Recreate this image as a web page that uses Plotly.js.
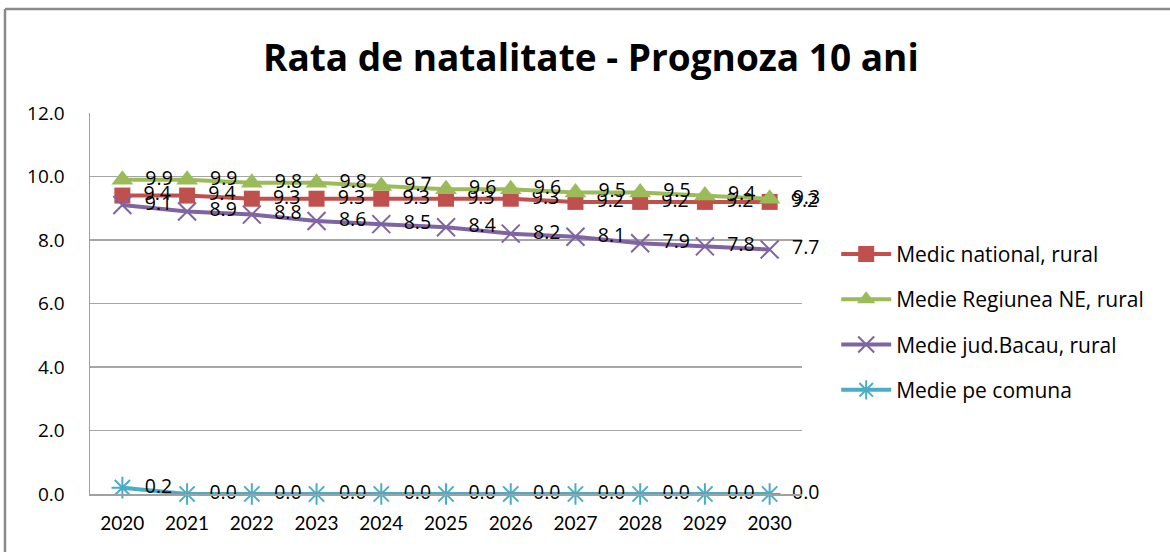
<!DOCTYPE html>
<html>
<head>
<meta charset="utf-8">
<script src="https://cdn.plot.ly/plotly-3.0.1.min.js"></script>
<style>html,body{margin:0;padding:0;background:#fff;}#chart{width:1170px;height:552px;}</style>
</head>
<body>
<div id="chart"></div>
<script>
const years = ["2020","2021","2022","2023","2024","2025","2026","2027","2028","2029","2030"];
const seriesNames = ["Medic national, rural","Medie Regiunea NE, rural","Medie jud.Bacau, rural","Medie pe comuna"];
const national = [9.4,9.4,9.3,9.3,9.3,9.3,9.3,9.2,9.2,9.2,9.2];
const regionNE = [9.9,9.9,9.8,9.8,9.7,9.6,9.6,9.5,9.5,9.4,9.3];
const bacau = [9.1,8.9,8.8,8.6,8.5,8.4,8.2,8.1,7.9,7.8,7.7];
const comuna = [0.2,0.0,0.0,0.0,0.0,0.0,0.0,0.0,0.0,0.0,0.0];
const yTicks = [0,2,4,6,8,10,12];

const FONT = "'Open Sans', Lato, sans-serif";
const TFONT = "Lato, 'Open Sans', sans-serif";
const colors = ["#C0504D","#9BBB59","#8064A2","#4BACC6"];
const symbols = ["square","triangle-up","x-thin-open","asterisk-open"];
const sizes = [16,19,18,18];
const data = [national, regionNE, bacau, comuna].map((v,i)=>({
  type:"scatter", mode:"lines+markers+text",
  x: years, y: v, name: seriesNames[i], legendgroup: "g"+i,
  text: v.map(d=>"\u00a0\u00a0"+d.toFixed(1)), textposition:"middle right",
  textfont:{family:FONT,size:19.5,color:"#000"},
  line:{color:colors[i],width:4},
  marker:{symbol:symbols[i],size:sizes[i],color:colors[i],line:{color:colors[i],width:(i>=2?2:0)}},
  cliponaxis:false
}));

const layout = {
  width:1170, height:552,
  paper_bgcolor:"#fff", plot_bgcolor:"#fff",
  margin:{l:90,r:368,t:113,b:58},
  title:{text:"<b>Rata de natalitate - Prognoza 10 ani</b>", font:{family:FONT,size:37,color:"#000"}, x:0.505, xanchor:"center", y:0.895, yanchor:"middle"},
  showlegend:true,
  legend:{x:1.048, xanchor:"left", y:0.683, yanchor:"top", font:{family:FONT,size:21,color:"#000"}, tracegroupgap:15, itemwidth:50, bgcolor:"rgba(0,0,0,0)"},
  xaxis:{type:"category", range:[-0.5,10.5], showgrid:false, showline:true, linecolor:"#a0a0a0", linewidth:1.5, ticks:"", tickfont:{family:TFONT,size:19,color:"#000"}, ticklabelstandoff:12, zeroline:false, fixedrange:true},
  yaxis:{range:[0,12], tickvals:yTicks, ticktext:yTicks.map(t=>t.toFixed(1)), showgrid:true, gridcolor:"#a6a6a6", gridwidth:1.5, showline:true, linecolor:"#a0a0a0", linewidth:1.5, ticks:"", tickfont:{family:FONT,size:19,color:"#000"}, ticklabelstandoff:20, zeroline:false, fixedrange:true},
  shapes:[
    {type:"line", xref:"paper", yref:"paper", x0:-85/712, x1:1.6, y0:(552-58-9)/381, y1:(552-58-9)/381, line:{color:"#8a8a8a",width:2.5}},
    {type:"line", xref:"paper", yref:"paper", x0:-85/712, x1:-85/712, y0:-1, y1:(552-58-9)/381, line:{color:"#8a8a8a",width:2.5}}
  ]
};
Plotly.newPlot("chart", data, layout, {displayModeBar:false, staticPlot:true});
</script>
</body>
</html>
